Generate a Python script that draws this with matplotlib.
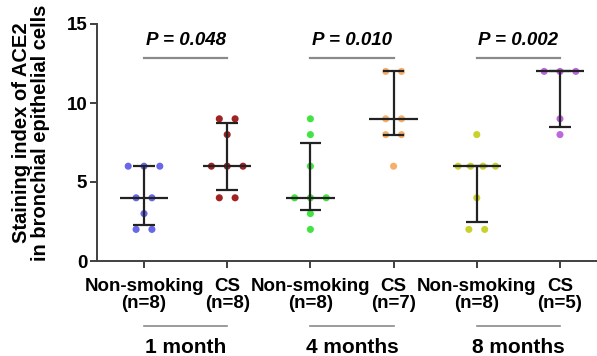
import numpy as np
import matplotlib
matplotlib.use("Agg")
import matplotlib.pyplot as plt
import matplotlib.transforms as mtransforms

plt.rcParams['font.family'] = ['Liberation Sans', 'DejaVu Sans']
plt.rcParams['font.weight'] = 'bold'

# data
groups = ["Non-smoking\n(n=8)", "CS\n(n=8)", "Non-smoking\n(n=8)", "CS\n(n=7)",
          "Non-smoking\n(n=8)", "CS\n(n=5)"]
ns_1m = [6, 6, 6, 4, 4, 3, 2, 2]
cs_1m = [9, 9, 8, 6, 6, 6, 4, 4]
ns_4m = [9, 8, 6, 4, 4, 4, 3, 2]
cs_4m = [12, 12, 9, 9, 8, 8, 6]
ns_8m = [8, 6, 6, 6, 6, 4, 2, 2]
cs_8m = [12, 12, 12, 9, 8]
values = [ns_1m, cs_1m, ns_4m, cs_4m, ns_8m, cs_8m]
colors = ["#5656e6", "#960a0a", "#2ee02e", "#f4a65a", "#c4cc14", "#b457dc"]
periods = ["1 month", "4 months", "8 months"]
pvalues = ["P = 0.048", "P = 0.010", "P = 0.002"]


def quartiles(v):
    # Prism style (n+1) percentile
    s = np.sort(v)
    n = len(s)
    out = []
    for p in (0.25, 0.5, 0.75):
        pos = (n + 1) * p
        lo = int(np.floor(pos))
        frac = pos - lo
        lo = min(max(lo, 1), n)
        hi = min(lo + 1, n)
        out.append(s[lo - 1] + frac * (s[hi - 1] - s[lo - 1]))
    return out


fig = plt.figure(figsize=(5.97, 3.56), dpi=100)
ax = fig.add_axes([97 / 597, 1 - 261 / 356, 500 / 597, 237 / 356])

x = np.arange(len(values))
for i, v in enumerate(values):
    v = np.array(v)
    for val in np.unique(v):
        k = np.sum(v == val)
        step = 0.15 if k >= 4 else 0.19
        offs = (np.arange(k) - (k - 1) / 2) * step
        ax.scatter(x[i] + offs, np.full(k, val), s=26, color=colors[i],
                   edgecolors='none', zorder=2, alpha=0.9)
    q1, med, q3 = quartiles(v)
    ax.vlines(x[i], q1, q3, color='#222222', lw=1.6, zorder=3)
    ax.hlines([q1, q3], x[i] - 0.13, x[i] + 0.13, color='#222222', lw=1.6, zorder=3)
    ax.hlines(med, x[i] - 0.29, x[i] + 0.29, color='#222222', lw=1.6, zorder=3)

# p-value brackets
for j, p in enumerate(pvalues):
    x0, x1 = x[2 * j], x[2 * j + 1]
    ax.plot([x0, x1], [12.85, 12.85], color='#8a8a8a', lw=1.6, clip_on=False)
    ax.text((x0 + x1) / 2, 13.95, p, ha='center', va='center', fontsize=13.5,
            fontweight='bold', fontstyle='italic')

ax.set_xlim(-0.565, 5.445)
ax.set_ylim(0, 15)
ax.set_yticks([0, 5, 10, 15])
ax.set_xticks(x)
ax.set_xticklabels(groups, fontsize=13.5, linespacing=1.05)
ax.tick_params(axis='y', labelsize=13.5, length=5, width=1.4, pad=2, color='#404040')
ax.tick_params(axis='x', length=5, width=1.4, pad=7, color='#404040')
for side in ['top', 'right']:
    ax.spines[side].set_visible(False)
for side in ['left', 'bottom']:
    ax.spines[side].set_linewidth(1.4)
    ax.spines[side].set_color('#404040')

# period labels under the tick labels
trans = mtransforms.blended_transform_factory(ax.transData, ax.transAxes)
for j, lab in enumerate(periods):
    x0, x1 = x[2 * j], x[2 * j + 1]
    ax.plot([x0, x1], [-0.274, -0.274], color='#8a8a8a', lw=1.2, transform=trans,
            clip_on=False)
    ax.text((x0 + x1) / 2, -0.365, lab, ha='center', va='center', fontsize=15,
            fontweight='bold', transform=trans)

fig.text(0.052, 0.626, "Staining index of ACE2\nin bronchial epithelial cells",
         rotation=90, ha='center', va='center', fontsize=14.5, fontweight='bold',
         multialignment='center', linespacing=1.05)

fig.savefig("out.png", dpi=100)
